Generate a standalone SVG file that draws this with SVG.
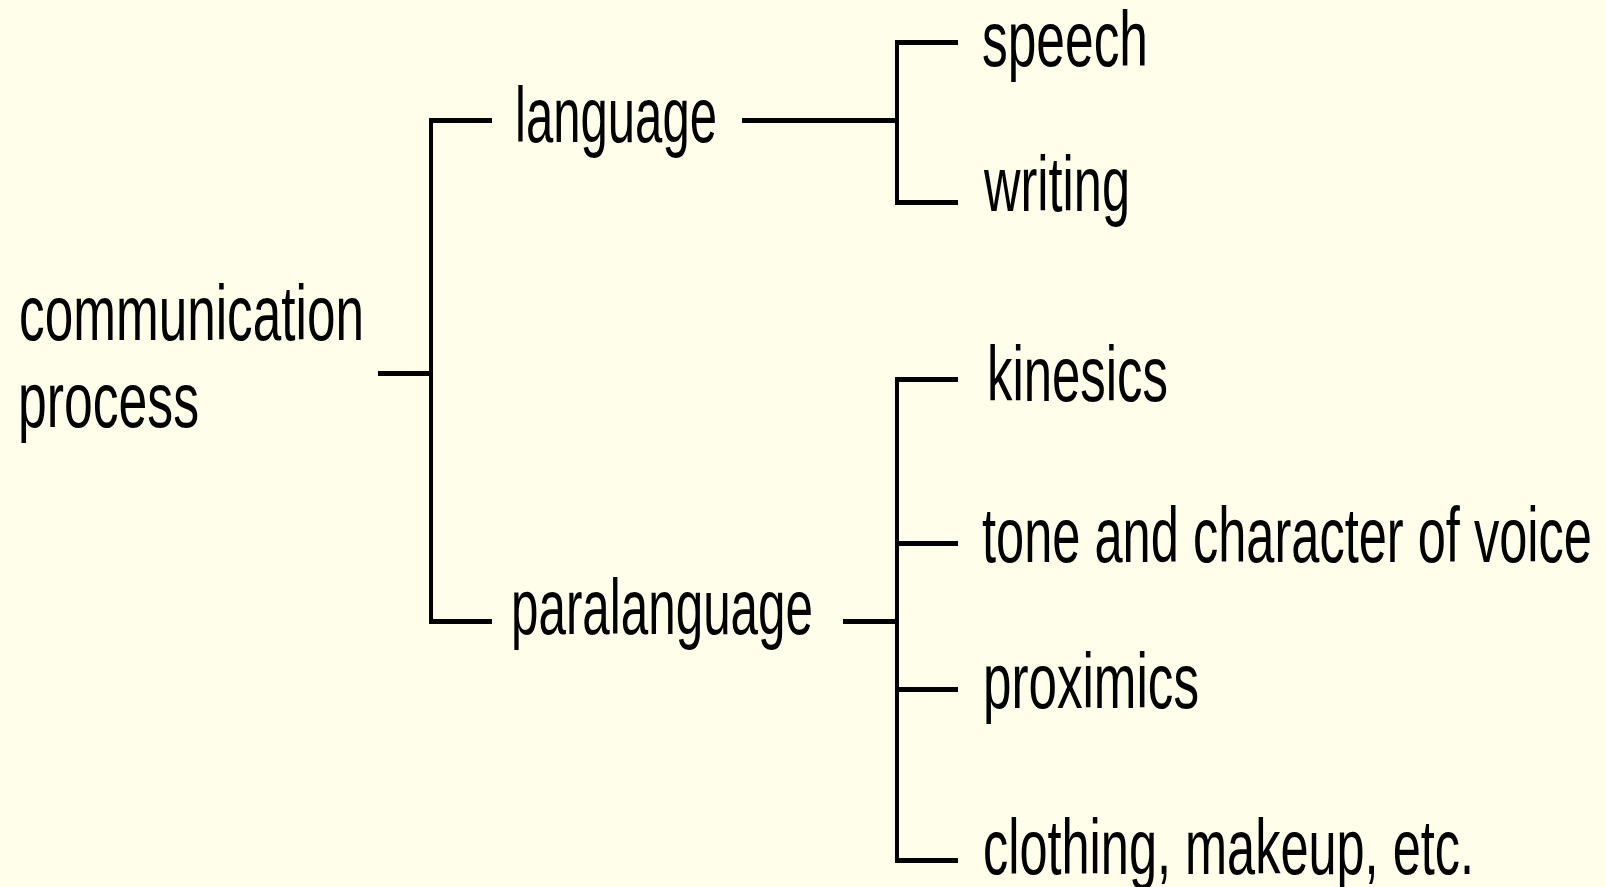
<svg xmlns="http://www.w3.org/2000/svg" width="1606" height="887" viewBox="0 0 1606 887">
  <style>
    .bg { fill: #FFFEEA; }
    .lbl { font-family: "Liberation Sans", Arial, sans-serif; font-size: 78px; fill: #000; }
    .h { stroke: #000; stroke-width: 5; fill: none; shape-rendering: crispEdges; }
    .v { stroke: #000; stroke-width: 4; fill: none; shape-rendering: crispEdges; }
  </style>
  <rect class="bg" x="0" y="0" width="1606" height="887"/>

  <!-- bracket connectors -->
  <g id="connectors">
    <!-- root to first level -->
    <path class="h" d="M378 373.5 H431"/>
    <path class="v" d="M431 117.5 V623.5"/>
    <path class="h" d="M429 120 H492"/>
    <path class="h" d="M429 621 H492"/>
    <!-- language branch -->
    <path class="h" d="M742 120 H897"/>
    <path class="v" d="M897 40 V204.5"/>
    <path class="h" d="M895 42.5 H958"/>
    <path class="h" d="M895 202 H958"/>
    <!-- paralanguage branch -->
    <path class="h" d="M843 621 H897"/>
    <path class="v" d="M897 376.5 V862.5"/>
    <path class="h" d="M895 379 H958"/>
    <path class="h" d="M895 543.5 H958"/>
    <path class="h" d="M895 689 H958"/>
    <path class="h" d="M895 860 H958"/>
  </g>

  <g id="node-root">
    <text class="lbl" x="19" y="340" textLength="345" lengthAdjust="spacingAndGlyphs">communication</text>
    <text class="lbl" x="18" y="427" textLength="181" lengthAdjust="spacingAndGlyphs">process</text>
  </g>
  <g id="node-language">
    <text class="lbl" x="515" y="142" textLength="202" lengthAdjust="spacingAndGlyphs">language</text>
  </g>
  <g id="node-paralanguage">
    <text class="lbl" x="511" y="634" textLength="302" lengthAdjust="spacingAndGlyphs">paralanguage</text>
  </g>
  <g id="node-speech">
    <text class="lbl" x="982" y="66" textLength="166" lengthAdjust="spacingAndGlyphs">speech</text>
  </g>
  <g id="node-writing">
    <text class="lbl" x="984" y="211" textLength="146" lengthAdjust="spacingAndGlyphs">writing</text>
  </g>
  <g id="node-kinesics">
    <text class="lbl" x="987" y="401" textLength="181" lengthAdjust="spacingAndGlyphs">kinesics</text>
  </g>
  <g id="node-tone">
    <text class="lbl" x="982" y="562" textLength="610" lengthAdjust="spacingAndGlyphs">tone and character of voice</text>
  </g>
  <g id="node-proximics">
    <text class="lbl" x="983" y="708" textLength="216" lengthAdjust="spacingAndGlyphs">proximics</text>
  </g>
  <g id="node-clothing">
    <text class="lbl" x="983" y="874" textLength="491" lengthAdjust="spacingAndGlyphs">clothing, makeup, etc.</text>
  </g>
</svg>
